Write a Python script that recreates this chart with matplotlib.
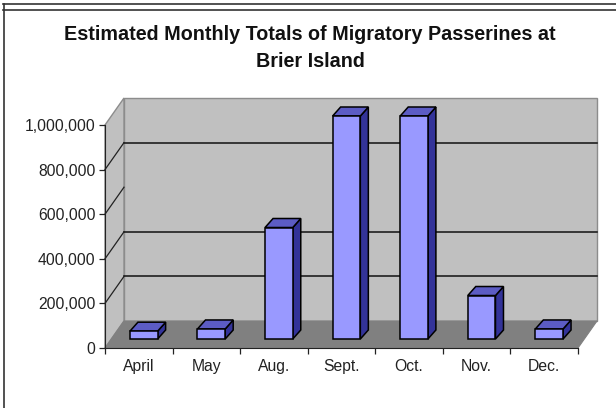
import matplotlib
matplotlib.use("Agg")
import matplotlib.pyplot as plt
from matplotlib.lines import Line2D
from matplotlib.patches import Polygon
from matplotlib.ticker import FuncFormatter

plt.rcParams["font.family"] = ["Liberation Sans", "DejaVu Sans"]

months = ["April", "May", "Aug.", "Sept.", "Oct.", "Nov.", "Dec."]
totals = [35000, 45000, 500000, 1000000, 1000000, 195000, 45000]
y_ticks = [0, 200000, 400000, 600000, 800000, 1000000]
# the 600,000 line is missing on the back wall of the original
back_gridlines = [200000, 400000, 800000]

W, H = 616, 408
fig = plt.figure(figsize=(W / 100, H / 100), dpi=100, facecolor="white")

# axes is the front plane of the 3D box, the rest is drawn off it with clip_on=False
left, right, bottom, top = 105, 578, 348, 125
ax = fig.add_axes([left / W, 1 - bottom / H, (right - left) / W, (bottom - top) / H])
ax.set_xlim(0, len(months))
ax.set_ylim(0, 1000000)
ax.patch.set_visible(False)

# depth of the box in data units
dx = 19 / ((right - left) / len(months))
dy = 27 / ((bottom - top) / 1000000)
n = len(months)
ymax = 1000000


def poly(points, face, edge, lw=0.8, z=1):
    ax.add_patch(Polygon(points, closed=True, facecolor=face, edgecolor=edge,
                         linewidth=lw, clip_on=False, zorder=z))


# walls and floor
poly([(dx, dy), (n + dx, dy), (n + dx, ymax + dy), (dx, ymax + dy)], "#c0c0c0", "#8c8c8c", 1.0)
poly([(0, 0), (dx, dy), (dx, ymax + dy), (0, ymax)], "#c0c0c0", "#8c8c8c", 1.0)
poly([(0, 0), (n, 0), (n + dx, dy), (dx, dy)], "#808080", "#808080", 0.8)

for v in back_gridlines:
    ax.plot([dx, n + dx], [v + dy, v + dy], color="#111111", lw=1.1, clip_on=False, zorder=2)
for v in y_ticks[1:-1]:
    ax.plot([0, dx], [v, v + dy], color="#222222", lw=0.9, clip_on=False, zorder=2)

# bars stand a third of the way back in the box
bar_w = 0.41
bar_shift = dx / 3 - 0.02
base = dy / 3
side_x = 8 / ((right - left) / n)
side_y = dy / 3
centers = [i + 0.5 + bar_shift for i in range(n)]

ax.bar(centers, totals, width=bar_w, bottom=base, color="#9999ff", edgecolor="black",
       linewidth=1.1, zorder=5, clip_on=False)
for c, v in zip(centers, totals):
    x0, x1 = c - bar_w / 2, c + bar_w / 2
    y0, y1 = base, base + v
    poly([(x1, y0), (x1 + side_x, y0 + side_y), (x1 + side_x, y1 + side_y), (x1, y1)],
         "#333399", "black", 1.1, 4)
    poly([(x0, y1), (x1, y1), (x1 + side_x, y1 + side_y), (x0 + side_x, y1 + side_y)],
         "#5c5cc4", "black", 1.1, 4)

# axes
for s in ["top", "right"]:
    ax.spines[s].set_visible(False)
ax.spines["left"].set_color("#222222")
ax.spines["bottom"].set_color("#222222")
ax.spines["left"].set_zorder(3)
ax.spines["bottom"].set_zorder(3)

ax.set_yticks(y_ticks)
ax.yaxis.set_major_formatter(FuncFormatter(lambda v, _: f"{int(v):,}"))
ax.tick_params(axis="y", length=4, width=0.9, color="#222222", labelsize=11.3,
               labelcolor="#222222", pad=3)
ax.set_xticks(range(n + 1))
ax.set_xticklabels([])
ax.set_xticks([i + 0.5 for i in range(n)], minor=True)
ax.set_xticklabels(months, minor=True)
ax.tick_params(axis="x", which="major", length=4, width=0.9, color="#222222")
ax.tick_params(axis="x", which="minor", length=0, labelsize=11.3, labelcolor="#222222", pad=8)

fig.text(310 / W, 1 - 48 / H, "Estimated Monthly Totals of Migratory Passerines at\nBrier Island",
         ha="center", va="center", fontsize=14.2, fontweight="bold", color="#111111",
         linespacing=1.55)

# border lines of the screenshot
for xs, ys in [([3, W], [4, 4]), ([3, W], [10, 10]), ([3.5, 3.5], [4, H])]:
    fig.add_artist(Line2D([x / W for x in xs], [1 - y / H for y in ys],
                          color="#333333", lw=1.2))

fig.savefig("out.png", dpi=100)
